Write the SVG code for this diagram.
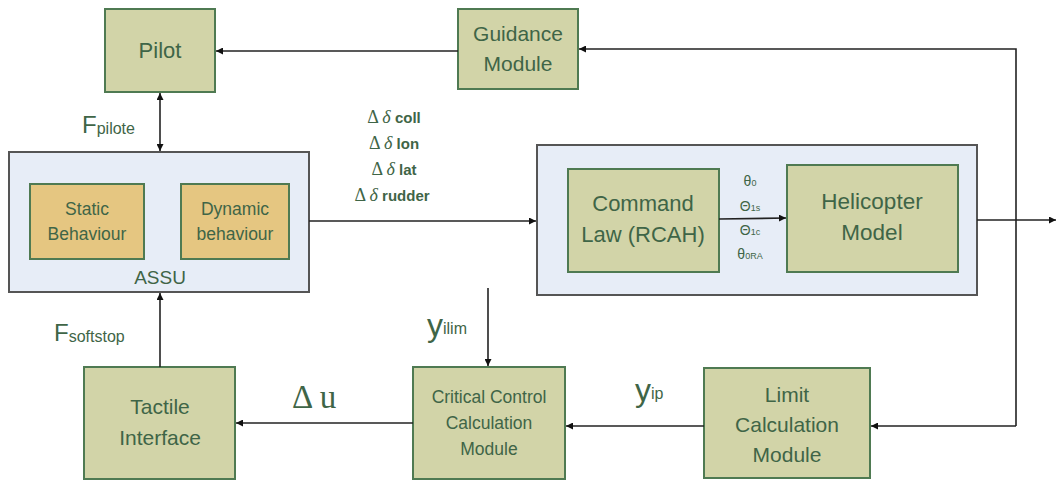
<svg xmlns="http://www.w3.org/2000/svg" width="1057" height="481" viewBox="0 0 1057 481">
<defs>
<marker id="ah" viewBox="0 0 10 10" refX="10" refY="5" markerWidth="7" markerHeight="7" markerUnits="userSpaceOnUse" orient="auto-start-reverse">
<path d="M0,0 L10,5 L0,10 z" fill="#111"/>
</marker>
<style>
.node{fill:#d2d4a8;stroke:#4f7a52;stroke-width:2}
.sub{fill:#e5c681;stroke:#4f7a52;stroke-width:2}
.cont{fill:#e7edf7;stroke:#555;stroke-width:2}
.t{font-family:"Liberation Sans",Arial,sans-serif;fill:#3f6547;text-anchor:middle}
.c{fill:none;stroke:#222;stroke-width:1.6}
.lbl{font-family:"Liberation Sans",Arial,sans-serif;fill:#3f6547}
.ser{font-family:"Liberation Serif","Times New Roman",serif;fill:#3f6547}
</style>
</defs>
<rect width="1057" height="481" fill="#fff"/>

<g id="assu">
<rect class="cont" x="9" y="152" width="300" height="140"/>
<text class="t" x="160" y="284" font-size="19">ASSU</text>
</g>
<g id="static">
<rect class="sub" x="30" y="184" width="114" height="75"/>
<text class="t" x="87" y="215" font-size="17.5">Static</text>
<text class="t" x="87" y="240" font-size="17.5">Behaviour</text>
</g>
<g id="dynamic">
<rect class="sub" x="181" y="184" width="108" height="75"/>
<text class="t" x="235" y="215" font-size="17.5">Dynamic</text>
<text class="t" x="235" y="240" font-size="17.5">behaviour</text>
</g>

<g id="plant">
<rect class="cont" x="537" y="145" width="440" height="150"/>
</g>
<g id="command">
<rect class="node" x="568" y="169" width="151" height="103"/>
<text class="t" x="643" y="211" font-size="22">Command</text>
<text class="t" x="643" y="242" font-size="22">Law (RCAH)</text>
</g>
<g id="helicopter">
<rect class="node" x="787" y="165" width="171" height="107"/>
<text class="t" x="872" y="209" font-size="22.5">Helicopter</text>
<text class="t" x="872" y="240" font-size="22.5">Model</text>
</g>

<g id="pilot">
<rect class="node" x="105" y="9" width="110" height="83"/>
<text class="t" x="160" y="58" font-size="22">Pilot</text>
</g>
<g id="guidance">
<rect class="node" x="458" y="9" width="120" height="80"/>
<text class="t" x="518" y="41" font-size="21">Guidance</text>
<text class="t" x="518" y="71" font-size="21">Module</text>
</g>
<g id="tactile">
<rect class="node" x="84" y="367" width="151" height="112"/>
<text class="t" x="160" y="414" font-size="21">Tactile</text>
<text class="t" x="160" y="445" font-size="21">Interface</text>
</g>
<g id="critical">
<rect class="node" x="413" y="367" width="152" height="112"/>
<text class="t" x="489" y="403" font-size="17.5">Critical Control</text>
<text class="t" x="489" y="429" font-size="17.5">Calculation</text>
<text class="t" x="489" y="455" font-size="17.5">Module</text>
</g>
<g id="limit">
<rect class="node" x="704" y="368" width="166" height="110"/>
<text class="t" x="787" y="402" font-size="21">Limit</text>
<text class="t" x="787" y="432" font-size="21">Calculation</text>
<text class="t" x="787" y="462" font-size="21">Module</text>
</g>

<g id="connectors">
<line class="c" x1="458" y1="51" x2="216" y2="51" marker-end="url(#ah)"/>
<polyline class="c" points="1016,426 1016,49 579,49" marker-end="url(#ah)"/>
<line class="c" x1="1016" y1="426" x2="871" y2="426" marker-end="url(#ah)"/>
<line class="c" x1="160" y1="93" x2="160" y2="151" marker-start="url(#ah)" marker-end="url(#ah)"/>
<line class="c" x1="309" y1="221" x2="536" y2="221" marker-end="url(#ah)"/>
<line class="c" x1="719" y1="219" x2="786" y2="218" marker-end="url(#ah)"/>
<line class="c" x1="977" y1="220" x2="1056" y2="220" marker-end="url(#ah)"/>
<line class="c" x1="160" y1="367" x2="160" y2="293" marker-end="url(#ah)"/>
<line class="c" x1="488" y1="288" x2="488" y2="366" marker-end="url(#ah)"/>
<line class="c" x1="413" y1="423" x2="236" y2="423" marker-end="url(#ah)"/>
<line class="c" x1="704" y1="426" x2="566" y2="426" marker-end="url(#ah)"/>
</g>

<g id="labels">
<text class="lbl" x="82" y="133" font-size="24">F<tspan font-size="16" dy="1">pilote</tspan></text>
<text class="lbl" x="54" y="341" font-size="24">F<tspan font-size="16" dy="1">softstop</tspan></text>
<text class="lbl" x="427" y="336" font-size="32">y<tspan font-size="16" dy="-2">ilim</tspan></text>
<text class="lbl" x="635" y="401" font-size="32">y<tspan font-size="16" dy="-2">ip</tspan></text>
<text class="ser" x="292" y="408" font-size="33">Δ u</text>
<g font-size="18">
<text class="lbl" x="394" y="123" text-anchor="middle"><tspan class="ser">Δ </tspan><tspan class="ser" font-style="italic">δ</tspan><tspan font-weight="bold" font-size="15"> coll</tspan></text>
<text class="lbl" x="394" y="149" text-anchor="middle"><tspan class="ser">Δ </tspan><tspan class="ser" font-style="italic">δ</tspan><tspan font-weight="bold" font-size="15">  lon</tspan></text>
<text class="lbl" x="394" y="175" text-anchor="middle"><tspan class="ser">Δ </tspan><tspan class="ser" font-style="italic">δ</tspan><tspan font-weight="bold" font-size="15">  lat</tspan></text>
<text class="lbl" x="392" y="201" text-anchor="middle"><tspan class="ser">Δ </tspan><tspan class="ser" font-style="italic">δ</tspan><tspan font-weight="bold" font-size="15">  rudder</tspan></text>
</g>
<g class="lbl" font-size="14" text-anchor="middle">
<text x="750" y="186">θ<tspan font-size="9">0</tspan></text>
<text x="750" y="211">Θ<tspan font-size="9">1s</tspan></text>
<text x="750" y="235">Θ<tspan font-size="9">1c</tspan></text>
<text x="750" y="259">θ<tspan font-size="9">0RA</tspan></text>
</g>
</g>
</svg>
